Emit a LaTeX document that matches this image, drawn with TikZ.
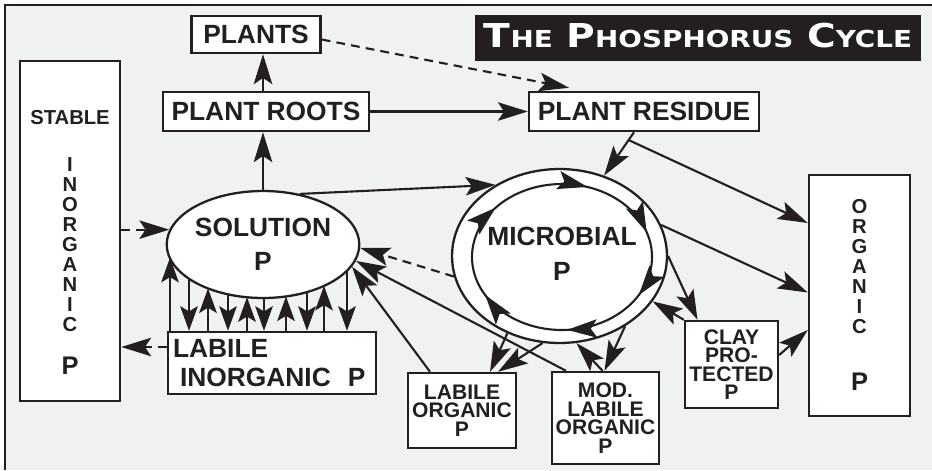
\documentclass[tikz,border=0pt]{standalone}
\usepackage{fontspec}
\setmainfont{Liberation Sans}
\newfontfamily\titlefont{DejaVu Sans}
\usepackage{graphicx}
\usepackage{tikz}
\usetikzlibrary{arrows.meta,shapes.geometric,positioning,calc,decorations.markings}

\definecolor{ink}{HTML}{231F20}
\definecolor{paper}{HTML}{F0F1F3}
\newcommand{\pfont}[2]{\fontsize{#1}{#2}\selectfont\bfseries}
\newcommand{\tsc}[1]{{\fontsize{13.3}{13.3}\selectfont #1}}

\begin{document}
\begin{tikzpicture}[
    x=0.02cm, y=-0.02cm, color=ink, font=\pfont{15}{19.5pt},
    >={Stealth[length=17pt,width=10.5pt,inset=3.5pt]},
    box/.style={rectangle, draw, fill=white, line width=1.4pt, inner sep=0pt, align=center},
    pool/.style={ellipse, draw, fill=white, line width=1.3pt, inner sep=0pt, align=center},
    flow/.style={->, line width=1.2pt},
    back/.style={->, line width=1.2pt, dash pattern=on 5pt off 3.5pt},
    xchg/.style={line width=1.2pt},
    up/.style={-{Stealth[length=14pt,width=10pt,inset=3pt]}},
    ring/.style={line width=1.2pt, postaction=decorate, decoration={markings,
        mark=at position 0.08 with {\arrow{>}},
        mark=at position 0.24 with {\arrow{>}},
        mark=at position 0.42 with {\arrow{>}},
        mark=at position 0.61 with {\arrow{>}},
        mark=at position 0.80 with {\arrow{>}},
        mark=at position 0.95 with {\arrow{>}}}}
]
    \useasboundingbox (0,0) rectangle (932,470);
    \fill[paper] (5,5) rectangle (932,470);
    \draw[line width=1.6pt] (5,470) -- (5,5) -- (932,5);

    \node[fill=ink, text=white, minimum width=8.92cm, minimum height=0.92cm, inner sep=0pt, text depth=3.4pt,
          font=\titlefont\bfseries\fontsize{18.7}{18.7}\selectfont] (title) at (698,38)
          {\scalebox{1.19}[1]{T\tsc{HE} P\tsc{HOSPHORUS} C\tsc{YCLE}}};

    \node[box, minimum width=2.58cm, minimum height=0.74cm] (plants) at (256,34.5) {PLANTS};
    \node[box, minimum width=4.12cm, minimum height=0.78cm] (roots) at (266,111.5) {PLANT ROOTS};
    \node[box, minimum width=4.6cm, minimum height=0.78cm] (residue) at (644,111.5) {PLANT RESIDUE};

    \node[box, minimum width=2cm, minimum height=6.8cm] (stable) at (70,231) {};
    \node[font=\pfont{11.5}{11.4pt}, align=center, inner sep=0pt] (stabletxt) at (70,242.5)
        {STABLE\\[14.8pt] I\\N\\O\\R\\G\\A\\N\\I\\C\\[13pt] {\pfont{14.5}{14.5pt}P}};
    \node[box, minimum width=2.02cm, minimum height=4.82cm] (organic) at (859.5,295.5) {};
    \node[font=\pfont{11.5}{11.4pt}, align=center, inner sep=0pt] (organictxt) at (859.5,294.5)
        {O\\R\\G\\A\\N\\I\\C\\[21pt] {\pfont{14.5}{14.5pt}P}};

    \node[pool, minimum width=3.84cm, minimum height=2.14cm] (sol) at (263,244.5) {SOLUTION\\P};
    \node[box, minimum width=4.16cm, minimum height=1.24cm, align=left, text width=3.96cm,
          inner xsep=0.1cm, font=\pfont{15}{16.5pt}] (labinorg) at (272,363)
        {LABILE\\\hspace*{4pt}INORGANIC\hspace{9.7pt}P};

    \node[pool, minimum width=4.3cm, minimum height=3.48cm] (micout) at (559.5,256) {};
    \draw[ring] (micout.center) ++(2.5,1) ellipse [x radius=90, y radius=73];
    \node[align=center, font=\pfont{15}{20pt}] (mictxt) at (562,254) {MICROBIAL\\P};

    \node[box, minimum width=2.16cm, minimum height=1.5cm, font=\pfont{12}{10.5pt}] (laborg) at (462,410.5)
        {LABILE\\ORGANIC\\P};
    \node[box, minimum width=2.14cm, minimum height=1.84cm, font=\pfont{12}{10.5pt}] (modlab) at (605.5,418)
        {MOD.\\LABILE\\ORGANIC\\P};
    \node[box, minimum width=1.86cm, minimum height=1.74cm, font=\pfont{12}{10.5pt}] (clay) at (731.5,364.5)
        {CLAY\\PRO-\\TECTED\\P};

    \draw[flow] (sol.north) -- (sol.north |- roots.south);
    \draw[flow] (sol.north |- roots.north) -- (sol.north |- plants.south);
    \draw[flow] (roots) -- (residue);
    \draw[back] ($(plants.east)+(0,5)$) -- ($(residue.north)+(-75,-3)$);

    \draw[flow] (sol.54) -- (micout.132);
    \coordinate (rs) at ($(residue.south)+(-10,0)$);
    \draw[flow] (rs) -- (micout.61);
    \draw[flow] ($(rs)!0.18!(micout.61)$) -- ($(organic.west)+(0,-72.5)$);
    \draw[flow] (micout.17) -- ($(organic.west)+(0,-3)$);
    \draw[flow] (micout.east) -- ($(clay.north)+(-34,0)$);
    \draw[flow] (clay.north west) -- (micout.-26);
    \draw[flow] ($(clay.east)+(0,-9.5)$) -- ($(organic.west)+(0,34.5)$);
    \draw[flow] (micout.-47) -- ($(modlab.north)+(-1,0)$);
    \draw[flow] ($(modlab.north)+(-3,0)$) -- (micout.-79);
    \draw[flow] (micout.236) -- ($(laborg.north)+(28,0)$);
    \draw[flow] (micout.259) -- ($(laborg.north)+(36,0)$);
    \draw[flow] ($(modlab.north)+(-39.5,0)$) -- (sol.-10);
    \draw[flow] ($(laborg.north)+(-32,0)$) -- (sol.-14);
    \draw[back] (micout.191) -- (sol.-2);

    \draw[back] (stable.east |- sol.171) -- (sol.171);
    \coordinate (li) at ($(labinorg.west)+(0,-16)$);
    \draw[back] (li) -- (stable.east |- li);

    \foreach \dx in {-93,-55,-16,23,61} {
        \pgfmathsetmacro\dy{53.5*sqrt(1-(\dx/96)*(\dx/96))}
        \coordinate (e) at ($(sol.center)+(\dx,\dy)$);
        \draw[xchg,up] (e |- labinorg.north) -- (e);
    }
    \foreach \dx in {-74,-35,1,44,84} {
        \pgfmathsetmacro\dy{53.5*sqrt(1-(\dx/96)*(\dx/96))}
        \coordinate (e) at ($(sol.center)+(\dx,\dy)$);
        \draw[xchg,up] (e) -- (e |- labinorg.north);
    }
\end{tikzpicture}
\end{document}
